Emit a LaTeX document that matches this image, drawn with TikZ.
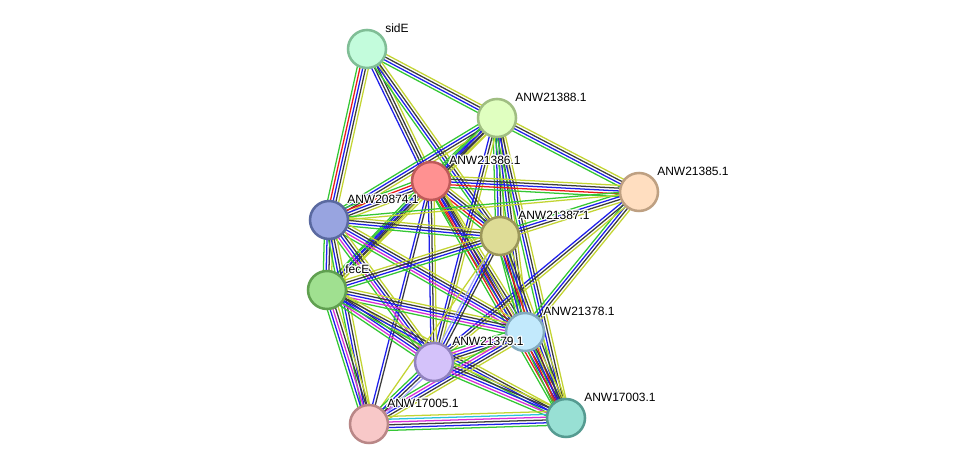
\documentclass[tikz,border=0pt]{standalone}
\usepackage{fontspec}
\setmainfont{Liberation Sans}
\usepackage{contour}
\contourlength{0.9pt}
\contournumber{12}
\usetikzlibrary{calc}
\pgfdeclarelayer{background}
\pgfsetlayers{background,main}
\definecolor{eg}{RGB}{52,199,52}
\definecolor{er}{RGB}{235,25,25}
\definecolor{eb}{RGB}{30,30,235}
\definecolor{ek}{RGB}{60,60,60}
\definecolor{em}{RGB}{215,45,215}
\definecolor{ec}{RGB}{40,195,220}
\definecolor{ey}{RGB}{195,212,50}
\definecolor{el}{RGB}{165,165,250}
\definecolor{fS}{RGB}{195,252,220}\definecolor{dS}{RGB}{128,190,150}
\definecolor{f88}{RGB}{224,255,192}\definecolor{d88}{RGB}{160,190,130}
\definecolor{f86}{RGB}{255,145,145}\definecolor{d86}{RGB}{190,90,90}
\definecolor{f85}{RGB}{255,222,192}\definecolor{d85}{RGB}{190,160,130}
\definecolor{f74}{RGB}{152,164,224}\definecolor{d74}{RGB}{90,105,160}
\definecolor{f87}{RGB}{222,220,150}\definecolor{d87}{RGB}{155,150,90}
\definecolor{fF}{RGB}{160,224,144}\definecolor{dF}{RGB}{96,160,80}
\definecolor{f78}{RGB}{194,233,252}\definecolor{d78}{RGB}{130,170,190}
\definecolor{f79}{RGB}{212,194,250}\definecolor{d79}{RGB}{145,130,190}
\definecolor{f05}{RGB}{248,200,200}\definecolor{d05}{RGB}{185,135,135}
\definecolor{f03}{RGB}{152,224,212}\definecolor{d03}{RGB}{85,155,145}
\newcommand{\lnk}[3]{%
  \foreach \cc [count=\ii] in {#3} {\xdef\nlines{\ii}}%
  \foreach \cc [count=\ii] in {#3} {%
    \pgfmathsetmacro{\off}{(\ii-(\nlines+1)/2)*2.1}%
    \draw[draw=e\cc, line width=0.95pt] ($(#1)!\off pt!90:(#2)$) -- ($(#2)!\off pt!-90:(#1)$);
  }%
}
\tikzset{
  prot/.style 2 args={circle, minimum size=28.5pt, inner sep=0pt, line width=1.9pt, fill=#1, draw=#2},
  lab/.style={anchor=base west, font=\fontsize{9pt}{10pt}\selectfont, inner sep=0pt, text=black}
}
\begin{document}
\begin{tikzpicture}[x=0.75pt, y=-0.75pt]
\useasboundingbox (0,0) rectangle (975,470);
% nodes
\node[prot={fS}{dS}] (S) at (367,49) {};
\node[prot={f88}{d88}] (A88) at (497,118) {};
\node[prot={f86}{d86}] (A86) at (431,181) {};
\node[prot={f85}{d85}] (A85) at (639,192) {};
\node[prot={f74}{d74}] (A74) at (329,220) {};
\node[prot={f87}{d87}] (A87) at (500,236) {};
\node[prot={fF}{dF}] (F) at (327,290) {};
\node[prot={f78}{d78}] (A78) at (525,332) {};
\node[prot={f79}{d79}] (A79) at (434,362) {};
\node[prot={f05}{d05}] (A05) at (369,424) {};
\node[prot={f03}{d03}] (A03) at (566,418) {};
% labels
\node[lab] (LS) at (385,32.3) {\contour{white}{sidE}};
\node[lab] (L88) at (515,101.3) {\contour{white}{ANW21388.1}};
\node[lab] (L86) at (449,164.3) {\contour{white}{ANW21386.1}};
\node[lab] (L85) at (657,175.3) {\contour{white}{ANW21385.1}};
\node[lab] (L74) at (347,203.3) {\contour{white}{ANW20874.1}};
\node[lab] (L87) at (518,219.3) {\contour{white}{ANW21387.1}};
\node[lab] (LF) at (345,273.3) {\contour{white}{fecE}};
\node[lab] (L78) at (543,315.3) {\contour{white}{ANW21378.1}};
\node[lab] (L79) at (452,345.3) {\contour{white}{ANW21379.1}};
\node[lab] (L05) at (387,407.3) {\contour{white}{ANW17005.1}};
\node[lab] (L03) at (584,401.3) {\contour{white}{ANW17003.1}};
% edges
\begin{pgfonlayer}{background}
\fill[white] (0,0) rectangle (975,470);
\lnk{S}{A88}{g,b,k,y}
\lnk{S}{A86}{b,k,k,y}
\lnk{S}{A87}{g,b,k,y}
\lnk{S}{A74}{g,r,b,k,y}
\lnk{A88}{A85}{g,b,k,y}
\lnk{A88}{A86}{g,b,k,y}
\lnk{A88}{A87}{g,b,k,y}
\lnk{A88}{A78}{g,b,k,y}
\lnk{A88}{A03}{g,b,k,y}
\lnk{A88}{A74}{g,b,k,y}
\lnk{A88}{F}{g,b,k,y}
\lnk{A88}{A79}{b,k,y}
\lnk{A86}{A85}{g,r,b,k,y}
\lnk{A86}{A74}{g,r,b,k,y}
\lnk{A86}{A87}{g,r,b,k,y}
\lnk{A86}{F}{g,b,k,y}
\lnk{A86}{A78}{g,r,b,k,y}
\lnk{A86}{A79}{b,k,y}
\lnk{A86}{A05}{b,k}
\lnk{A86}{A03}{g,r,b,k,y}
\lnk{A85}{A87}{g,b,k,y}
\lnk{A85}{A78}{g,b,k,y}
\lnk{A85}{A79}{b,k,y}
\lnk{A85}{A74}{g,y}
\lnk{A74}{A87}{g,b,k,y}
\lnk{A74}{F}{g,b,k,y}
\lnk{A74}{A78}{g,m,b,k,y}
\lnk{A74}{A79}{g,m,b,k,y}
\lnk{A74}{A05}{g,b,k,y}
\lnk{F}{A87}{g,b,k,y}
\lnk{F}{A78}{g,m,b,k,y}
\lnk{F}{A79}{g,m,b,k,y}
\lnk{F}{A05}{g,b,m,k,y}
\lnk{F}{A03}{g,b,k,y}
\lnk{A87}{A78}{g,b,k,y}
\lnk{A87}{A79}{l,b,k}
\lnk{A87}{A03}{g,r,b,k,y}
\lnk{A87}{A05}{y}
\lnk{A78}{A79}{g,m,b,k,y}
\lnk{A78}{A05}{g,m,b,k,y}
\lnk{A78}{A03}{g,r,b,k,y}
\lnk{A79}{A05}{g,b,k,l}
\lnk{A79}{A03}{g,m,b,k,y}
\lnk{A05}{A03}{g,b,k,m,c,y}
\end{pgfonlayer}
\end{tikzpicture}
\end{document}
